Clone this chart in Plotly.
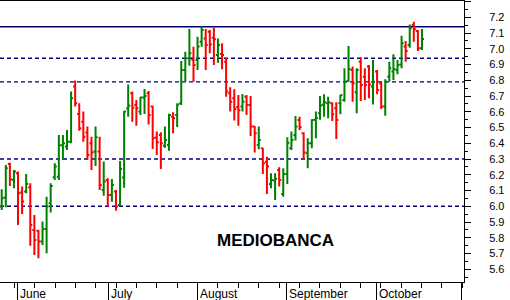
import plotly.graph_objects as go

# ---- data ----
opens = [5.998, 6.055, 6.269, 6.167, 6.209, 6.087, 6.093, 6.121, 5.850, 5.845,
         5.776, 5.856, 6.019, 6.184, 6.188, 6.387, 6.379, 6.410, 6.760, 6.586,
         6.537, 6.468, 6.400, 6.347, 6.347, 6.104, 6.167, 6.072, 6.093, 6.008,
         6.182, 6.622, 6.717, 6.643, 6.601, 6.690, 6.717, 6.633, 6.436, 6.453,
         6.385, 6.389, 6.569, 6.580, 6.654, 6.865, 6.940, 6.929, 6.929, 7.045,
         7.066, 7.109, 7.070, 6.961, 6.967, 6.918, 6.717, 6.686, 6.630, 6.633,
         6.696, 6.643, 6.506, 6.389, 6.368, 6.283, 6.142, 6.163, 6.231, 6.078,
         6.205, 6.368, 6.453, 6.548, 6.463, 6.336, 6.400, 6.550, 6.590, 6.645,
         6.654, 6.654, 6.622, 6.654, 6.675, 6.796, 6.865, 6.724, 6.918, 6.823,
         6.887, 6.760, 6.855, 6.781, 6.633, 6.823, 6.855, 6.865, 6.901, 7.014,
         7.024, 7.151, 7.113, 7.003]
highs = [6.108, 6.262, 6.277, 6.231, 6.220, 6.125, 6.205, 6.146, 5.945, 5.850,
         5.903, 6.061, 6.146, 6.273, 6.453, 6.453, 6.485, 6.728, 6.798, 6.654,
         6.601, 6.506, 6.442, 6.506, 6.442, 6.284, 6.178, 6.173, 6.104, 6.288,
         6.605, 6.774, 6.728, 6.675, 6.696, 6.745, 6.732, 6.639, 6.474, 6.470,
         6.506, 6.588, 6.597, 6.654, 6.923, 6.982, 7.126, 7.013, 7.077, 7.141,
         7.126, 7.119, 7.134, 7.066, 7.035, 6.940, 6.755, 6.743, 6.707, 6.713,
         6.707, 6.700, 6.510, 6.506, 6.370, 6.315, 6.209, 6.209, 6.247, 6.241,
         6.438, 6.474, 6.573, 6.569, 6.470, 6.432, 6.552, 6.601, 6.700, 6.711,
         6.696, 6.660, 6.660, 6.707, 6.876, 7.018, 6.887, 6.876, 6.946, 6.876,
         6.897, 6.929, 6.865, 6.791, 6.806, 6.918, 6.965, 6.929, 7.083, 7.050,
         7.155, 7.172, 7.119, 7.126]
lows = [5.977, 5.994, 6.129, 6.114, 5.881, 5.951, 6.083, 5.750, 5.691, 5.670,
        5.754, 5.701, 5.960, 6.167, 6.167, 6.294, 6.358, 6.400, 6.633, 6.480,
        6.410, 6.294, 6.231, 6.256, 6.104, 6.066, 5.998, 6.029, 5.972, 6.004,
        6.118, 6.569, 6.537, 6.512, 6.580, 6.586, 6.520, 6.364, 6.326, 6.237,
        6.372, 6.353, 6.463, 6.504, 6.643, 6.791, 6.893, 6.791, 6.865, 7.013,
        6.865, 6.971, 6.897, 6.912, 6.870, 6.696, 6.601, 6.544, 6.512, 6.601,
        6.580, 6.446, 6.341, 6.362, 6.205, 6.078, 6.114, 6.040, 6.125, 6.061,
        6.142, 6.357, 6.417, 6.484, 6.294, 6.241, 6.368, 6.432, 6.550, 6.569,
        6.559, 6.542, 6.427, 6.584, 6.664, 6.791, 6.664, 6.590, 6.669, 6.675,
        6.686, 6.647, 6.711, 6.618, 6.575, 6.791, 6.802, 6.838, 6.876, 6.918,
        7.007, 7.045, 6.986, 6.992]
closes = [6.051, 6.241, 6.171, 6.220, 6.083, 6.030, 6.142, 5.881, 5.786, 5.776,
          5.856, 5.998, 6.129, 6.252, 6.387, 6.400, 6.410, 6.686, 6.654, 6.495,
          6.442, 6.326, 6.341, 6.438, 6.135, 6.157, 6.072, 6.135, 5.998, 6.237,
          6.601, 6.639, 6.626, 6.622, 6.690, 6.700, 6.580, 6.432, 6.406, 6.400,
          6.421, 6.580, 6.559, 6.647, 6.865, 6.940, 6.971, 6.897, 7.014, 7.119,
          7.024, 7.028, 7.060, 7.024, 6.961, 6.728, 6.664, 6.618, 6.610, 6.664,
          6.643, 6.506, 6.463, 6.421, 6.273, 6.252, 6.167, 6.175, 6.167, 6.205,
          6.404, 6.421, 6.506, 6.501, 6.341, 6.400, 6.548, 6.560, 6.640, 6.660,
          6.660, 6.584, 6.548, 6.707, 6.791, 6.872, 6.781, 6.865, 6.770, 6.770,
          6.774, 6.791, 6.738, 6.633, 6.791, 6.876, 6.872, 6.897, 7.035, 6.986,
          7.130, 7.124, 7.003, 7.062]

month_labels = ["June", "July", "August", "September", "October"]
month_starts = [3.8, 26.1, 47.9, 69.8, 91.8]          # bar-index positions of month boundaries
solid_levels = [7.14]
dashed_levels = [6.94, 6.79, 6.30, 6.00]
y_ticks = [5.6, 5.7, 5.8, 5.9, 6.0, 6.1, 6.2, 6.3, 6.4, 6.5, 6.6, 6.7, 6.8, 6.9, 7.0, 7.1, 7.2, 7.3]
title_text = "MEDIOBANCA"

x = list(range(len(opens)))

fig = go.Figure()
fig.add_trace(go.Ohlc(
    x=x, open=opens, high=highs, low=lows, close=closes,
    increasing=dict(line=dict(color="#008000", width=2)),
    decreasing=dict(line=dict(color="#ff0000", width=2)),
    tickwidth=0.5, hoverinfo="skip", showlegend=False,
))

for lv in solid_levels:
    fig.add_shape(type="line", xref="paper", x0=0, x1=1, yref="y", y0=lv, y1=lv,
                  line=dict(color="#000060", width=1.3), layer="below")
for lv in dashed_levels:
    fig.add_shape(type="line", xref="paper", x0=0, x1=1, yref="y", y0=lv, y1=lv,
                  line=dict(color="#000080", width=1.3, dash="4px,3px"), layer="below")

for name, xs in zip(month_labels, month_starts):
    fig.add_annotation(x=xs + 0.2, xref="x", y=-0.041, yref="paper", text=name,
                       showarrow=False, xanchor="left", yanchor="middle",
                       font=dict(family="Liberation Sans, Arial", size=12, color="black"))

fig.add_annotation(x=0.593, xref="paper", y=0.148, yref="paper", text=title_text,
                   showarrow=False, xanchor="center", yanchor="middle",
                   font=dict(family="Liberation Sans, Arial", size=17, color="black", weight="bold"))

fig.update_layout(
    width=510, height=300,
    margin=dict(l=0, r=46, t=1, b=18),
    paper_bgcolor="white", plot_bgcolor="white",
    showlegend=False,
    xaxis=dict(
        range=[-0.42, 113.3], rangeslider=dict(visible=False),
        showgrid=False, zeroline=False, showline=True, linecolor="black", linewidth=1,
        mirror=True,
        tickmode="array", tickvals=month_starts + [112.7], showticklabels=False,
        ticks="outside", ticklen=17, tickcolor="black", tickwidth=1,
        minor=dict(tick0=3.09, dtick=4.99, ticks="outside", ticklen=5,
                   tickcolor="black", tickwidth=1, showgrid=False),
        fixedrange=True,
    ),
    yaxis=dict(
        side="right", range=[5.519, 7.3035],
        showgrid=False, zeroline=False, showline=True, linecolor="black", linewidth=1,
        tickmode="array", tickvals=y_ticks,
        ticktext=[f"{v:.1f}" if v < 7.25 else "" for v in y_ticks],
        ticks="outside", ticklen=6, tickcolor="black", tickwidth=1,
        minor=dict(dtick=0.05, tick0=0, ticks="outside", ticklen=3,
                   tickcolor="black", tickwidth=1, showgrid=False),
        ticklabelstandoff=16,
        tickfont=dict(family="Liberation Sans, Arial", size=11, color="black"),
        automargin=False, fixedrange=True,
    ),
)

fig.write_html("out.html", config={"displayModeBar": False, "staticPlot": True})
